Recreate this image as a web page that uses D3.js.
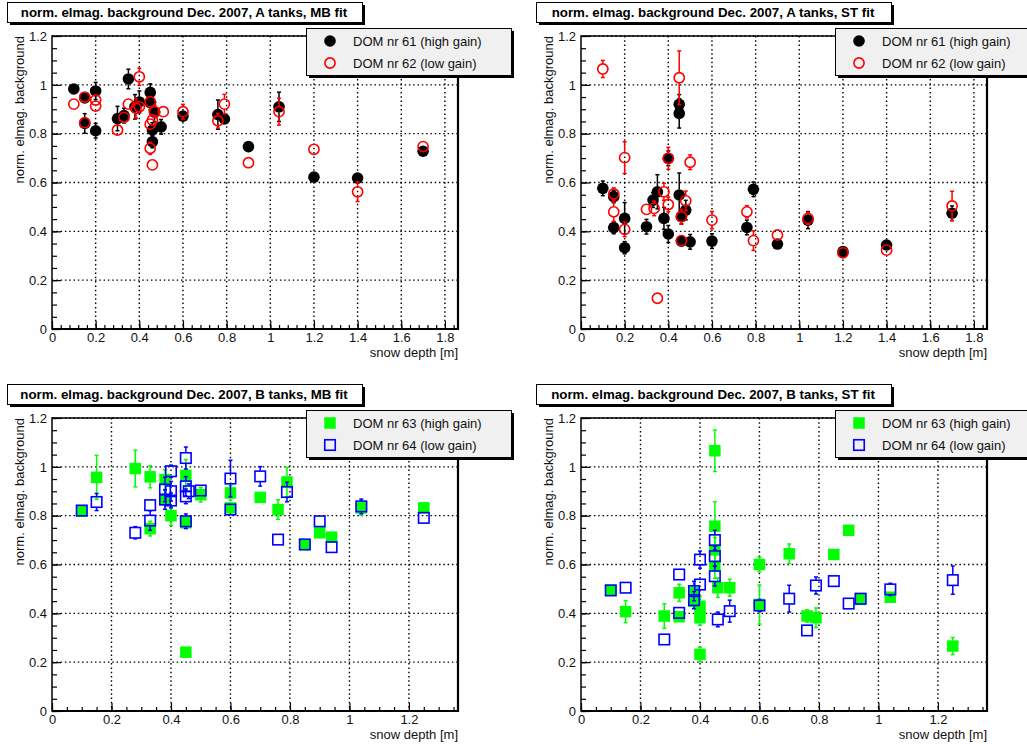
<!DOCTYPE html>
<html>
<head>
<meta charset="utf-8">
<script src="https://cdn.jsdelivr.net/npm/d3@7"></script>
<style>
body { margin: 0; background: #fff; }
svg { display: block; font-family: "Liberation Sans", Arial, Helvetica, sans-serif; }
</style>
</head>
<body>
<svg id="chart" width="1027" height="744"></svg>
<script>
// [snow depth, value, error]
var aMB61 = [[0.10,0.983,0.012],[0.15,0.946,0.02],[0.15,0.842,0.04],[0.20,0.975,0.035],[0.20,0.812,0.03],
  [0.30,0.862,0.05],[0.33,0.874,0.03],[0.35,1.024,0.04],[0.38,0.910,0.05],[0.40,0.930,0.045],
  [0.45,0.969,0.035],[0.45,0.927,0.03],[0.46,0.815,0.03],[0.46,0.767,0.025],[0.47,0.888,0.04],
  [0.50,0.828,0.03],[0.60,0.872,0.02],[0.76,0.878,0.06],[0.79,0.860,0.02],[0.90,0.747,0.012],
  [1.04,0.910,0.06],[1.20,0.622,0.012],[1.40,0.618,0.02],[1.70,0.728,0.012]];
var aMB62 = [[0.10,0.921,0.012],[0.15,0.950,0.02],[0.15,0.845,0.02],[0.20,0.938,0.015],[0.20,0.913,0.015],
  [0.30,0.815,0.015],[0.33,0.867,0.02],[0.35,0.921,0.015],[0.385,0.904,0.04],[0.40,1.033,0.035],
  [0.40,0.910,0.02],[0.45,0.931,0.02],[0.45,0.839,0.02],[0.46,0.856,0.02],[0.45,0.740,0.025],
  [0.46,0.672,0.015],[0.47,0.890,0.025],[0.51,0.890,0.015],[0.60,0.890,0.03],[0.76,0.853,0.03],
  [0.79,0.921,0.04],[0.90,0.681,0.02],[1.04,0.890,0.055],[1.20,0.736,0.012],[1.40,0.562,0.04],
  [1.70,0.747,0.012]];
var aST61 = [[0.10,0.576,0.03],[0.15,0.542,0.025],[0.15,0.415,0.025],[0.20,0.453,0.065],[0.20,0.333,0.025],
  [0.30,0.419,0.03],[0.33,0.528,0.03],[0.35,0.562,0.07],[0.38,0.453,0.045],[0.40,0.699,0.03],
  [0.40,0.389,0.035],[0.45,0.920,0.04],[0.45,0.883,0.06],[0.45,0.549,0.09],[0.46,0.460,0.03],
  [0.46,0.360,0.02],[0.48,0.487,0.04],[0.50,0.357,0.03],[0.60,0.360,0.03],[0.76,0.416,0.03],
  [0.79,0.572,0.03],[0.90,0.348,0.015],[1.04,0.446,0.035],[1.20,0.317,0.015],[1.40,0.344,0.015],
  [1.70,0.474,0.03]];
var aST62 = [[0.10,1.065,0.035],[0.15,0.553,0.025],[0.15,0.480,0.04],[0.20,0.702,0.065],[0.20,0.408,0.03],
  [0.30,0.490,0.015],[0.335,0.494,0.03],[0.35,0.126,0.012],[0.38,0.562,0.035],[0.40,0.699,0.045],
  [0.40,0.510,0.03],[0.45,1.029,0.11],[0.46,0.460,0.03],[0.46,0.362,0.015],[0.48,0.525,0.04],
  [0.50,0.683,0.03],[0.60,0.446,0.035],[0.76,0.480,0.025],[0.79,0.362,0.04],[0.90,0.385,0.015],
  [1.04,0.453,0.025],[1.20,0.312,0.012],[1.40,0.323,0.012],[1.70,0.504,0.06]];
var bMB63 = [[0.10,0.818,0.02],[0.15,0.957,0.09],[0.28,0.993,0.075],[0.33,0.959,0.045],[0.33,0.747,0.03],
  [0.38,0.948,0.04],[0.38,0.866,0.04],[0.40,0.800,0.04],[0.45,0.965,0.065],[0.45,0.771,0.02],
  [0.45,0.241,0.01],[0.50,0.886,0.03],[0.60,0.893,0.03],[0.60,0.832,0.02],[0.70,0.875,0.01],
  [0.76,0.825,0.04],[0.79,0.938,0.06],[0.85,0.682,0.01],[0.90,0.730,0.01],[0.94,0.712,0.01],
  [1.04,0.832,0.03],[1.25,0.832,0.015]];
var bMB64 = [[0.10,0.821,0.015],[0.15,0.856,0.035],[0.28,0.730,0.025],[0.33,0.843,0.02],[0.33,0.780,0.04],
  [0.38,0.907,0.05],[0.38,0.866,0.04],[0.40,0.982,0.025],[0.40,0.900,0.04],[0.40,0.862,0.03],
  [0.45,1.036,0.045],[0.45,0.920,0.04],[0.45,0.879,0.03],[0.45,0.777,0.03],[0.46,0.900,0.03],
  [0.50,0.903,0.02],[0.60,0.952,0.075],[0.60,0.825,0.02],[0.70,0.961,0.04],[0.76,0.702,0.01],
  [0.79,0.897,0.04],[0.85,0.682,0.01],[0.90,0.777,0.02],[0.94,0.671,0.02],[1.04,0.838,0.03],
  [1.25,0.791,0.01]];
var bST63 = [[0.10,0.494,0.01],[0.15,0.407,0.045],[0.28,0.389,0.05],[0.33,0.484,0.035],[0.33,0.386,0.015],
  [0.38,0.484,0.03],[0.38,0.450,0.03],[0.40,0.429,0.04],[0.40,0.382,0.03],[0.40,0.232,0.03],
  [0.45,1.066,0.085],[0.45,0.757,0.1],[0.45,0.660,0.05],[0.45,0.593,0.05],[0.46,0.505,0.04],
  [0.50,0.505,0.035],[0.60,0.600,0.03],[0.60,0.436,0.08],[0.70,0.644,0.04],[0.76,0.389,0.025],
  [0.79,0.382,0.04],[0.85,0.641,0.01],[0.90,0.740,0.01],[0.94,0.457,0.015],[1.04,0.466,0.02],
  [1.25,0.266,0.035]];
var bST64 = [[0.10,0.494,0.02],[0.15,0.505,0.02],[0.28,0.293,0.02],[0.33,0.559,0.02],[0.33,0.402,0.02],
  [0.38,0.491,0.04],[0.38,0.454,0.035],[0.40,0.620,0.035],[0.40,0.518,0.02],[0.45,0.700,0.04],
  [0.45,0.634,0.04],[0.45,0.552,0.04],[0.46,0.375,0.03],[0.50,0.409,0.045],[0.60,0.432,0.025],
  [0.70,0.460,0.055],[0.76,0.330,0.015],[0.79,0.514,0.035],[0.85,0.532,0.01],[0.90,0.440,0.02],
  [0.94,0.460,0.02],[1.04,0.498,0.025],[1.25,0.536,0.058]];

var titles = ["norm. elmag. background Dec. 2007, A tanks, MB fit",
              "norm. elmag. background Dec. 2007, A tanks, ST fit",
              "norm. elmag. background Dec. 2007, B tanks, MB fit",
              "norm. elmag. background Dec. 2007, B tanks, ST fit"];
var legendA = ["DOM nr 61 (high gain)", "DOM nr 62 (low gain)"];
var legendB = ["DOM nr 63 (high gain)", "DOM nr 64 (low gain)"];
var xTicksA = [0, 0.2, 0.4, 0.6, 0.8, 1, 1.2, 1.4, 1.6, 1.8];
var xTicksB = [0, 0.2, 0.4, 0.6, 0.8, 1, 1.2];
var yTicks = [0, 0.2, 0.4, 0.6, 0.8, 1, 1.2];
var xTitle = "snow depth [m]",
    yTitle = "norm. elmag. background";

var svg = d3.select('#chart');

// frame box inside each pad
var frameL = 52, frameR = 458, frameT = 36, frameB = 329;

var panels = [
  {dx: 0, dy: 0, title: titles[0], xMax: 1.86, ticks: xTicksA, minor: 0.04, legend: legendA, shape: 'circle',
   series: [{data: aMB61, color: '#000', open: false}, {data: aMB62, color: '#ff0000', open: true}]},
  {dx: 529, dy: 0, title: titles[1], xMax: 1.86, ticks: xTicksA, minor: 0.04, legend: legendA, shape: 'circle',
   series: [{data: aST61, color: '#000', open: false}, {data: aST62, color: '#ff0000', open: true}]},
  {dx: 0, dy: 382, title: titles[2], xMax: 1.365, ticks: xTicksB, minor: 0.05, legend: legendB, shape: 'square',
   series: [{data: bMB63, color: '#00ff00', open: false}, {data: bMB64, color: '#0000ff', open: true}]},
  {dx: 529, dy: 382, title: titles[3], xMax: 1.365, ticks: xTicksB, minor: 0.05, legend: legendB, shape: 'square',
   series: [{data: bST63, color: '#00ff00', open: false}, {data: bST64, color: '#0000ff', open: true}]}
];

var fmt = function(d) { return d3.format("~g")(+d.toFixed(2)); };

function drawMarker(g, shape, open, color, cx, cy) {
  if (shape === 'circle') {
    g.append('circle')
      .attr('cx', cx).attr('cy', cy)
      .attr('r', open ? 5.1 : 5.8)
      .style('fill', open ? 'none' : color)
      .style('stroke', color)
      .style('stroke-width', open ? 1.6 : 0);
  } else {
    var s = open ? 10.5 : 11.5;
    g.append('rect')
      .attr('x', cx - s / 2).attr('y', cy - s / 2)
      .attr('width', s).attr('height', s)
      .style('fill', open ? 'none' : color)
      .style('stroke', color)
      .style('stroke-width', open ? 1.6 : 0);
  }
}

panels.forEach(function(p) {
  var pad = svg.append('g').attr('transform', 'translate(' + p.dx + ',' + p.dy + ')');

  var x = d3.scaleLinear().domain([0, p.xMax]).range([frameL, frameR]);
  var y = d3.scaleLinear().domain([0, 1.2]).range([frameB, frameT]);

  // grid
  var grid = pad.append('g')
    .style('stroke', '#000')
    .style('stroke-width', 1.4)
    .style('stroke-dasharray', '1.5,2.8');
  p.ticks.filter(function(d) { return d > 0; }).forEach(function(d) {
    grid.append('line').attr('x1', x(d)).attr('x2', x(d)).attr('y1', frameT).attr('y2', frameB);
  });
  yTicks.filter(function(d) { return d > 0; }).forEach(function(d) {
    grid.append('line').attr('x1', frameL).attr('x2', frameR).attr('y1', y(d)).attr('y2', y(d));
  });

  // minor ticks
  var xMinor = d3.range(0, p.xMax + 1e-9, p.minor);
  var yMinor = d3.range(0, 1.2 + 1e-9, 0.05);

  pad.append('g')
    .attr('transform', 'translate(0,' + frameB + ')')
    .call(d3.axisBottom(x).tickValues(xMinor).tickSize(-4).tickFormat(''))
    .call(function(g) { g.select('.domain').remove(); });
  pad.append('g')
    .attr('transform', 'translate(' + frameL + ',0)')
    .call(d3.axisLeft(y).tickValues(yMinor).tickSize(-5).tickFormat(''))
    .call(function(g) { g.select('.domain').remove(); });

  // major ticks + labels
  var xAxis = pad.append('g')
    .attr('transform', 'translate(0,' + frameB + ')')
    .call(d3.axisBottom(x).tickValues(p.ticks).tickSize(-8).tickPadding(4).tickFormat(fmt));
  var yAxis = pad.append('g')
    .attr('transform', 'translate(' + frameL + ',0)')
    .call(d3.axisLeft(y).tickValues(yTicks).tickSize(-9).tickPadding(5).tickFormat(fmt));
  [xAxis, yAxis].forEach(function(a) {
    a.select('.domain').remove();
    a.selectAll('text').style('font-size', '13px').style('fill', '#111').attr('font-family', null);
  });
  pad.selectAll('.tick line').style('stroke', '#000').style('stroke-width', 1.2);

  // frame
  pad.append('rect')
    .attr('x', frameL).attr('y', frameT)
    .attr('width', frameR - frameL).attr('height', frameB - frameT)
    .style('fill', 'none').style('stroke', '#000').style('stroke-width', 1.5);
  pad.append('path')
    .attr('d', 'M' + frameL + ',' + frameB + 'H' + frameR + 'V' + frameT)
    .style('fill', 'none').style('stroke', '#000').style('stroke-width', 2.2);

  // axis titles
  pad.append('text')
    .attr('x', frameR).attr('y', frameB + 28)
    .attr('text-anchor', 'end')
    .style('font-size', '13px').style('fill', '#111')
    .text(xTitle);
  pad.append('text')
    .attr('transform', 'translate(24,' + frameT + ') rotate(-90)')
    .attr('text-anchor', 'end')
    .style('font-size', '13px').style('fill', '#111')
    .text(yTitle);

  // data
  var half = 5.5;
  p.series.forEach(function(s) {
    var g = pad.append('g');
    s.data.forEach(function(d) {
      var cx = x(d[0]), cy = y(d[1]);
      var yt = y(d[1] + d[2]), yb = y(d[1] - d[2]);
      var eb = g.append('g').style('stroke', s.color).style('stroke-width', 1.5).style('fill', 'none');
      if (cy - half > yt) {
        eb.append('line').attr('x1', cx).attr('x2', cx).attr('y1', yt).attr('y2', cy - half);
        eb.append('line').attr('x1', cx - 2).attr('x2', cx + 2).attr('y1', yt).attr('y2', yt);
      }
      if (yb > cy + half) {
        eb.append('line').attr('x1', cx).attr('x2', cx).attr('y1', cy + half).attr('y2', yb);
        eb.append('line').attr('x1', cx - 2).attr('x2', cx + 2).attr('y1', yb).attr('y2', yb);
      }
      drawMarker(g, p.shape, s.open, s.color, cx, cy);
    });
  });

  // title box
  pad.append('rect').attr('x', 10).attr('y', 5).attr('width', 355).attr('height', 20).style('fill', '#000');
  pad.append('rect').attr('x', 7.5).attr('y', 2.5).attr('width', 355).attr('height', 20)
    .style('fill', '#fff').style('stroke', '#000').style('stroke-width', 1);
  pad.append('text')
    .attr('x', 184).attr('y', 17.3)
    .attr('text-anchor', 'middle')
    .style('font-size', '13.3px').style('font-weight', 'bold')
    .text(p.title);

  // legend
  var lg = pad.append('g');
  lg.append('rect').attr('x', 309).attr('y', 31).attr('width', 205).attr('height', 47).style('fill', '#000');
  lg.append('rect').attr('x', 306.5).attr('y', 28.5).attr('width', 205).attr('height', 47)
    .style('fill', '#f0f0f0').style('stroke', '#000').style('stroke-width', 1);
  p.legend.forEach(function(t, i) {
    var ly = 41 + i * 22;
    drawMarker(lg, p.shape, p.series[i].open, p.series[i].color, 330, ly);
    lg.append('text')
      .attr('x', 353).attr('y', ly + 4.5)
      .style('font-size', '13px').style('fill', '#111')
      .text(t);
  });
});
</script>
</body>
</html>
